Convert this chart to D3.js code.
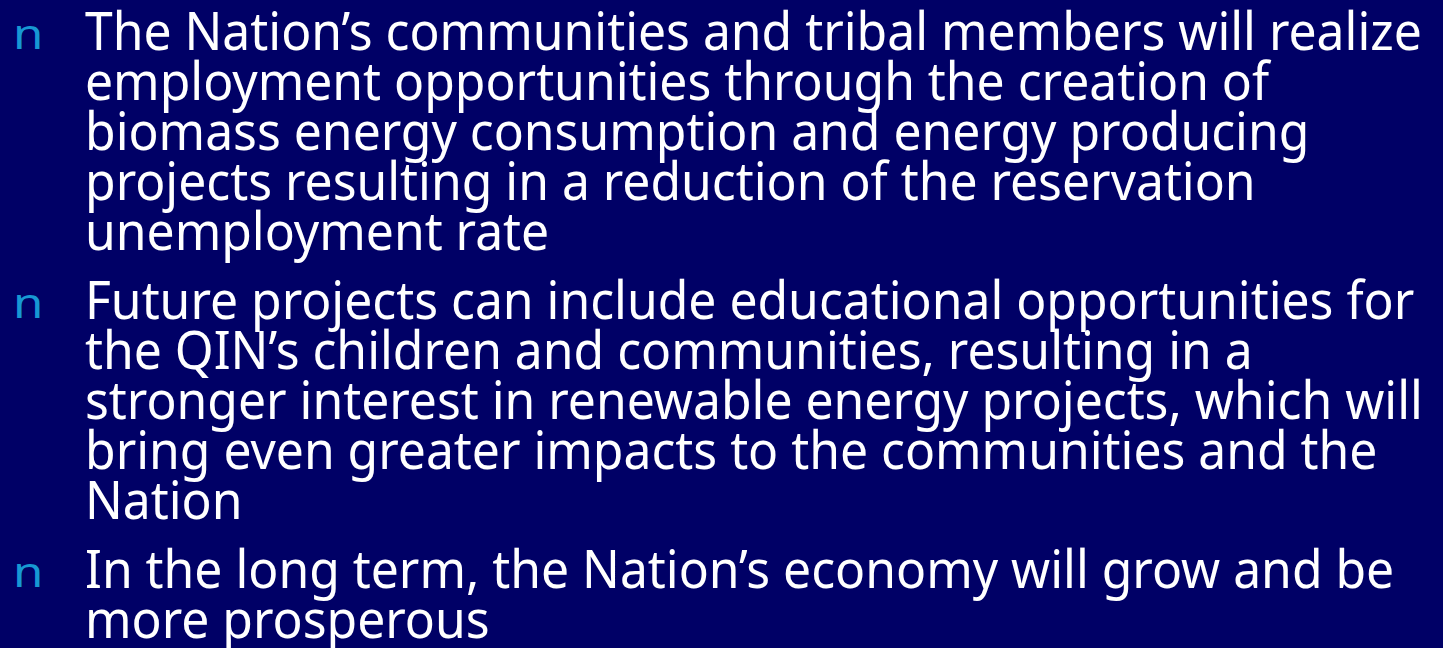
<!DOCTYPE html>
<html>
<head>
    <meta charset="UTF-8" />
    <title>Slide</title>
    <style>
        html, body { margin: 0; padding: 0; background-color: #000066; overflow: hidden; }
        svg { display: block; background-color: #000066; }
        .line { fill: #ffffff; font-family: "Noto Sans", "Open Sans", sans-serif; font-size: 53px; }
        .bullet { fill: #1798d3; font-family: "Noto Sans", "Open Sans", sans-serif; font-size: 41px; }
    </style>
    <script src="https://cdn.jsdelivr.net/npm/d3@7"></script>
</head>
<body>
<div id="slide"></div>
<script>
    // bullet text, one array of wrapped lines per bullet
    let bullet1 = [
        "The Nation’s communities and tribal members will realize",
        "employment opportunities through the creation of",
        "biomass energy consumption and energy producing",
        "projects resulting in a reduction of the reservation",
        "unemployment rate"
    ];
    let bullet2 = [
        "Future projects can include educational opportunities for",
        "the QIN’s children and communities, resulting in a",
        "stronger interest in renewable energy projects, which will",
        "bring even greater impacts to the communities and the",
        "Nation"
    ];
    let bullet3 = [
        "In the long term, the Nation’s economy will grow and be",
        "more prosperous"
    ];
    let bullets = [bullet1, bullet2, bullet3];
    let bulletMark = "n";

    let width = 1443, height = 648;
    let textLeft = 85, markLeft = 13;
    let firstBaseline = 50, lineStep = 50, bulletGap = 19;
    let targetFirstWidth = 1337;

    let svg = d3.select("#slide").append("svg")
        .attr("width", width)
        .attr("height", height);

    // baseline of every line, bullets stacked with a gap
    let rows = [];
    let y = firstBaseline;
    bullets.forEach((lines, b) => {
        lines.forEach((t, i) => {
            rows.push({ bullet: b, first: i == 0, text: t, y: y });
            y += lineStep;
        });
        y += bulletGap;
    });

    let body = svg.append("g").attr("class", "body");

    body.selectAll("text.line")
        .data(rows)
        .enter()
        .append("text")
        .attr("class", "line")
        .attr("y", d => d.y)
        .text(d => d.text);

    // fit the first line to the slide's width, same factor for all
    let w0 = body.select("text.line").node().getComputedTextLength();
    let sx = targetFirstWidth / w0;
    body.selectAll("text.line")
        .attr("transform", d => `translate(${textLeft},0) scale(${sx},1)`);

    // bullet glyph, a bit wider than the font draws it
    svg.append("g")
        .attr("class", "marks")
        .selectAll("text")
        .data(rows.filter(d => d.first))
        .enter()
        .append("text")
        .attr("class", "bullet")
        .attr("transform", d => `translate(${markLeft},${d.y - 1}) scale(1.2,1)`)
        .text(bulletMark);
</script>
</body>
</html>
